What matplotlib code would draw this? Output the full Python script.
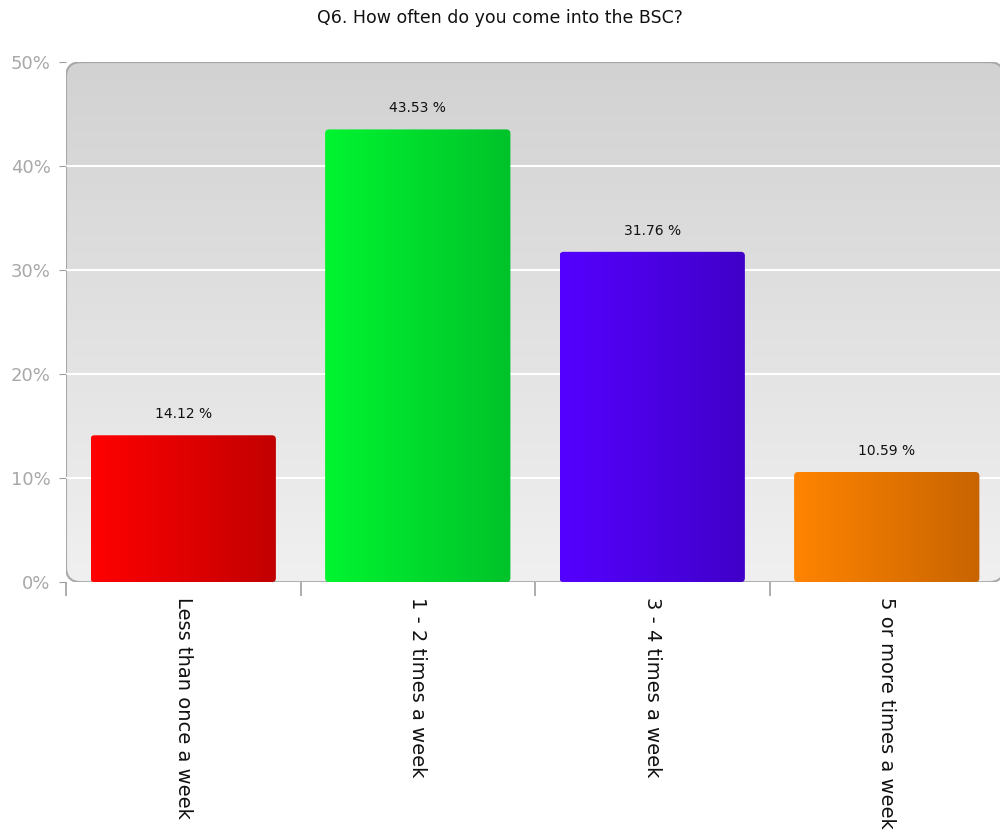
import numpy as np
import matplotlib
matplotlib.use('Agg')
import matplotlib.pyplot as plt
from matplotlib.patches import FancyBboxPatch, Polygon
from matplotlib.colors import LinearSegmentedColormap
from matplotlib.transforms import IdentityTransform

title = 'Q6. How often do you come into the BSC?'
categories = ['Less than once a week', '1 - 2 times a week', '3 - 4 times a week', '5 or more times a week']
values = [14.12, 43.53, 31.76, 10.59]
left_colors = ['#ff0000', '#00f530', '#5500ff', '#ff8400']
right_colors = ['#c20000', '#00c22a', '#4000c8', '#c86400']
yticks = [0, 10, 20, 30, 40, 50]

plt.rcParams['font.family'] = ['DejaVu Sans']

fig = plt.figure(figsize=(10, 8.34), dpi=100)
ax = fig.add_axes([0.066, 0.302, 0.938, 0.6235])
ax.set_xlim(-0.5, 3.5)
ax.set_ylim(0, 50)

def rounded(bb, r, **kw):
    # rounded box in pixel coords, flattened to straight segments
    box = FancyBboxPatch((bb.x0, bb.y0), bb.width, bb.height,
                         boxstyle=f'round,pad=0,rounding_size={r}')
    verts = box.get_path().to_polygons()[0]
    return Polygon(verts, closed=True, transform=IdentityTransform(), **kw)

# rounded background with vertical gradient
abb = ax.get_window_extent()
bg = rounded(abb, 15, facecolor='none', edgecolor='#a8a8a8', linewidth=1.5, zorder=0.5)
ax.add_patch(bg)
grad = np.linspace(0, 1, 256).reshape(-1, 1)
bgcmap = LinearSegmentedColormap.from_list('bg', ['#d2d2d2', '#f0f0f0'])
im = ax.imshow(grad, cmap=bgcmap, extent=[0, 1, 0, 1], transform=ax.transAxes,
               aspect='auto', origin='upper', zorder=0.1)
im.set_clip_path(bg)

for t in yticks[1:-1]:
    ax.axhline(t, color='white', linewidth=1.5, zorder=1)

x = np.arange(len(categories))
bars = ax.bar(x, values, width=0.79, color='none', edgecolor='none', zorder=2)
hgrad = np.linspace(0, 1, 256).reshape(1, -1)
for b, c0, c1, v in zip(bars, left_colors, right_colors, values):
    cm = LinearSegmentedColormap.from_list('b', [c0, c1])
    x0, y0 = b.get_x(), b.get_y()
    w, h = b.get_width(), b.get_height()
    clip = rounded(b.get_window_extent(), 4, facecolor='none', edgecolor='none')
    ax.add_patch(clip)
    bi = ax.imshow(hgrad, cmap=cm, extent=[x0, x0 + w, y0, y0 + h],
                   aspect='auto', zorder=2)
    bi.set_clip_path(clip)
    ax.text(x0 + w / 2, v + 2.05, f'{v:.2f} %', ha='center', va='center',
            fontsize=10, color='#111111')

ax.set_xlim(-0.5, 3.5)
ax.set_ylim(0, 50)

for s in ax.spines.values():
    s.set_visible(False)

ax.set_yticks(yticks)
ax.set_yticklabels([f'{t}%' for t in yticks], fontsize=13, color='#a8a8a8')
ax.tick_params(axis='y', length=5, color='#a0a0a0', pad=6)

ax.set_xticks(x)
ax.set_xticklabels(categories, rotation=270, fontsize=14, color='#111111',
                   va='top', ha='center')
ax.tick_params(axis='x', which='major', length=0, pad=11)
ax.set_xticks(np.arange(-0.5, 4, 1), minor=True)
ax.tick_params(axis='x', which='minor', length=10, color='#a0a0a0', width=1.2)

fig.text(0.5, 0.978, title, ha='center', va='center', fontsize=12.5, color='#111111')

fig.savefig('out.png', dpi=100)
